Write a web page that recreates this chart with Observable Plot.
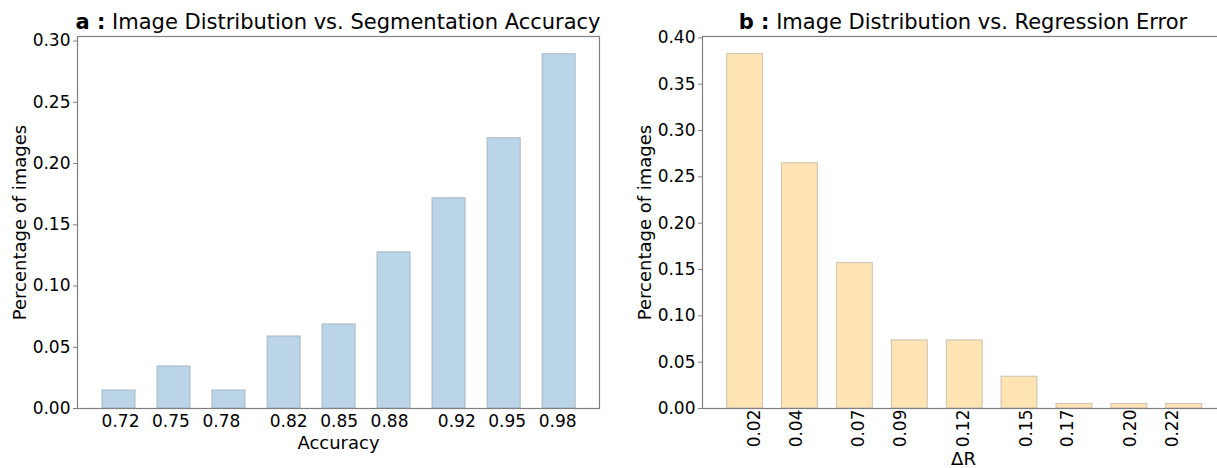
<!DOCTYPE html>
<html><head><meta charset="utf-8">
<script src="https://cdn.jsdelivr.net/npm/d3@7"></script>
<script src="https://cdn.jsdelivr.net/npm/@observablehq/plot@0.6"></script>
<style>
html,body{margin:0;padding:0;background:#fff;overflow:hidden;}
#root{position:relative;width:1217px;height:468px;overflow:hidden;font-family:"DejaVu Sans",sans-serif;color:#000;}
.panel{position:absolute;top:0;}
.title{position:absolute;top:11px;font-size:21px;line-height:22px;white-space:nowrap;transform:translateX(-50%);}
</style></head><body><div id="root"></div>
<script>
// Panel a: segmentation accuracy histogram
const accCenters = [0.7191, 0.7518, 0.7845, 0.8173, 0.8500, 0.8827, 0.9154, 0.9482, 0.9809];
const accShares  = [0.0147, 0.0343, 0.0147, 0.0588, 0.0686, 0.1275, 0.1716, 0.2206, 0.2892];
const accTicks   = [0.72, 0.75, 0.78, 0.82, 0.85, 0.88, 0.92, 0.95, 0.98];
// Panel b: regression error histogram
const errCenters = [0.0155, 0.0417, 0.0680, 0.0943, 0.1206, 0.1468, 0.1731, 0.1994, 0.2256];
const errShares  = [0.3824, 0.2647, 0.1569, 0.0735, 0.0735, 0.0343, 0.0049, 0.0049, 0.0049];
const errTicks   = [0.02, 0.04, 0.07, 0.09, 0.12, 0.15, 0.17, 0.20, 0.22];
const yTicksA = [0, 0.05, 0.10, 0.15, 0.20, 0.25, 0.30];
const yTicksB = [0, 0.05, 0.10, 0.15, 0.20, 0.25, 0.30, 0.35, 0.40];

const accW = 0.0196, errW = 0.0172;
const accData = accCenters.map((c, i) => ({c, v: accShares[i]}));
const errData = errCenters.map((c, i) => ({c, v: errShares[i]}));
const fmt = d3.format(".2f");
const spine = "#808080";

function panel({data, w, xDomain, yDomain, yTicks, xTicks, xLabel, fill, stroke, width, marginLeft, marginRight, rotate}) {
  return Plot.plot({
    width, height: 468,
    marginLeft, marginRight, marginTop: 36, marginBottom: 60,
    style: {fontFamily: "DejaVu Sans", fontSize: "17px", color: "#000", background: "transparent", overflow: "visible"},
    x: {domain: xDomain},
    y: {domain: yDomain},
    marks: [
      Plot.rectY(data, {x1: d => d.c - w / 2, x2: d => d.c + w / 2, y1: 0, y2: "v", fill, stroke, strokeWidth: 1}),
      Plot.frame({stroke: spine, strokeWidth: 1.2}),
      Plot.axisY({ticks: yTicks, tickFormat: fmt, tickSize: 4, tickPadding: 3, stroke: spine, color: "#000", fontSize: 17, label: null}),
      Plot.axisY({ticks: [], tickSize: 0, label: "Percentage of images", labelAnchor: "center", labelArrow: "none",
        labelOffset: 64, fontSize: 18}),
      Plot.axisX({ticks: xTicks, tickFormat: fmt, tickSize: 0, tickPadding: rotate ? 1 : 6, tickRotate: rotate, color: "#000",
        fontSize: 17, label: null}),
      Plot.axisX({ticks: [], tickSize: 0, label: xLabel, labelAnchor: "center", labelArrow: "none",
        labelOffset: rotate ? 56 : 40, fontSize: 18})
    ]
  });
}

const root = document.getElementById("root");
const a = panel({data: accData, w: accW, xDomain: [0.6944, 1.0049], yDomain: [0, 0.3037], yTicks: yTicksA, xTicks: accTicks,
  xLabel: "Accuracy", fill: "#bbd5e8", stroke: "#a8b4c0", width: 610, marginLeft: 77, marginRight: 11, rotate: 0});
a.classList.add("panel"); a.style.left = "0px";
root.appendChild(a);
const b = panel({data: errData, w: errW, xDomain: [-0.0049, 0.2449], yDomain: [0, 0.4015], yTicks: yTicksB, xTicks: errTicks,
  xLabel: "ΔR", fill: "#fde4b2", stroke: "#cbc2b2", width: 625, marginLeft: 92, marginRight: 11, rotate: -90});
b.classList.add("panel"); b.style.left = "610px";
root.appendChild(b);

function title(letter, text, cx) {
  const t = document.createElement("div");
  t.className = "title";
  t.style.left = cx + "px";
  const bEl = document.createElement("b"); bEl.textContent = letter + " :";
  t.appendChild(bEl);
  t.appendChild(document.createTextNode(" " + text));
  root.appendChild(t);
}
title("a", "Image Distribution vs. Segmentation Accuracy", 338);
title("b", "Image Distribution vs. Regression Error", 963);
</script></body></html>
